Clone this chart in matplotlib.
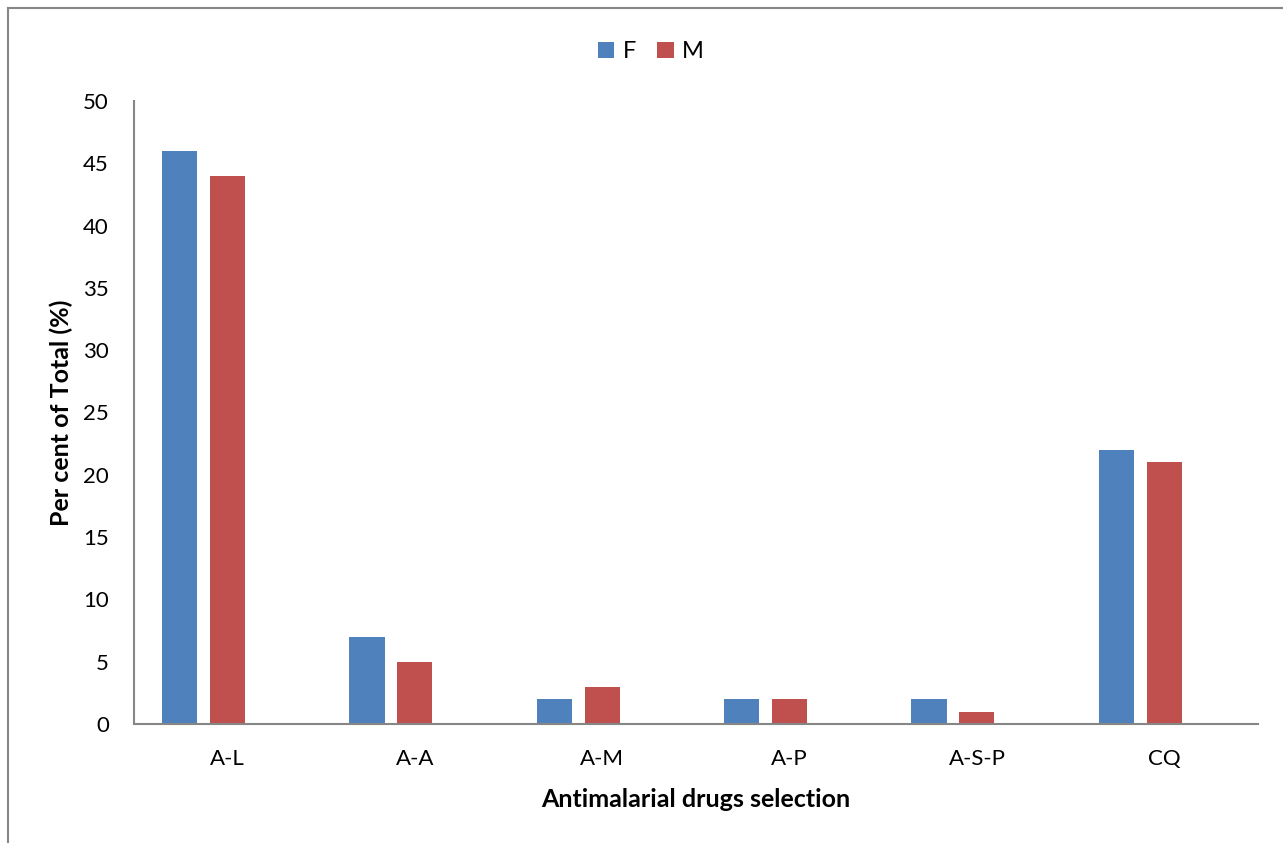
import numpy as np
import matplotlib.pyplot as plt
from matplotlib.lines import Line2D

plt.rcParams['font.family'] = ['Lato', 'DejaVu Sans']

drugs = ['A-L', 'A-A', 'A-M', 'A-P', 'A-S-P', 'CQ']
female = [46, 7, 2, 2, 2, 22]
male = [44, 5, 3, 2, 1, 21]

fig = plt.figure(figsize=(12.83, 8.43), dpi=100)
ax = fig.add_axes([0.1044, 0.1412, 0.8761, 0.739])

x = np.arange(len(drugs))
w = 0.187
ax.bar(x - 0.256, female, w, color='#4f81bd', label='F')
ax.bar(x, male, w, color='#c0504d', label='M')

ax.set_xlim(-0.5, len(drugs) - 0.5)
ax.set_ylim(0, 50)
ax.set_yticks(range(0, 51, 5))
ax.set_xticks(x)
ax.set_xticklabels(drugs)
ax.tick_params(length=0, labelsize=16)
ax.tick_params(axis='x', pad=18)
ax.tick_params(axis='y', pad=18)
for s in ['top', 'right']:
    ax.spines[s].set_visible(False)
for s in ['left', 'bottom']:
    ax.spines[s].set_color('#868686')
    ax.spines[s].set_linewidth(1.5)

ax.set_ylabel('Per cent of Total (%)', fontsize=18, fontweight='bold', labelpad=7)
ax.set_xlabel('Antimalarial drugs selection', fontsize=18, fontweight='bold', labelpad=14)

ax.legend(loc='upper center', bbox_to_anchor=(0.46, 1.13), ncol=2, frameon=False,
          fontsize=17, handlelength=0.7, handleheight=0.7, handletextpad=0.35,
          columnspacing=0.9)

# outer chart border
fig.add_artist(Line2D([8 / 1283, 8 / 1283], [0, 1 - 8 / 843], color='#868686', lw=1.5))
fig.add_artist(Line2D([8 / 1283, 1], [1 - 8 / 843, 1 - 8 / 843], color='#868686', lw=1.5))

fig.savefig('out.png', dpi=100)
